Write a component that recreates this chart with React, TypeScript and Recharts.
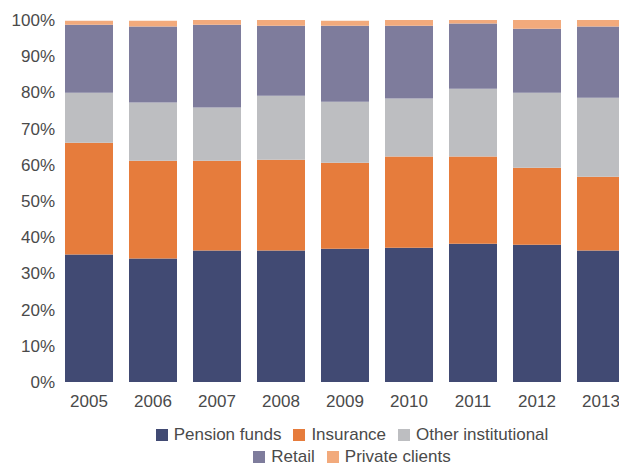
import React from "react";
import { BarChart, Bar, XAxis, YAxis, Legend } from "recharts";

const years = ["2005", "2006", "2007", "2008", "2009", "2010", "2011", "2012", "2013"];
const pensionFunds = [35.2, 34.1, 36.3, 36.3, 36.8, 37.1, 38.2, 37.9, 36.3];
const insurance = [30.9, 27.0, 24.8, 25.1, 23.8, 25.2, 24.1, 21.3, 20.4];
const otherInstitutional = [13.8, 16.1, 14.7, 17.7, 16.8, 16.0, 18.7, 20.7, 21.8];
const retail = [18.8, 21.0, 22.9, 19.3, 21.0, 20.1, 18.0, 17.7, 19.7];
const privateClients = [1.1, 1.6, 1.3, 1.6, 1.4, 1.6, 1.0, 2.4, 1.8];
const yTicks = [0, 10, 20, 30, 40, 50, 60, 70, 80, 90, 100];

const series = [
  { key: "pension", name: "Pension funds", color: "#414a73", values: pensionFunds },
  { key: "insurance", name: "Insurance", color: "#e67c3c", values: insurance },
  { key: "other", name: "Other institutional", color: "#bdbec1", values: otherInstitutional },
  { key: "retail", name: "Retail", color: "#7e7c9c", values: retail },
  { key: "private", name: "Private clients", color: "#f2aa7c", values: privateClients },
];

const data = years.map((year, i) => {
  const row: Record<string, string | number> = { year };
  series.forEach((s) => {
    row[s.key] = s.values[i];
  });
  return row;
});

const FONT = "'Liberation Sans', Arial, Helvetica, sans-serif";
const TEXT = "#4a4a4a";

const LegendContent = () => (
  <div
    style={{
      display: "flex",
      flexWrap: "wrap",
      justifyContent: "center",
      fontFamily: FONT,
      fontSize: 17,
      color: TEXT,
      lineHeight: "22px",
    }}
  >
    {series.map((s) => (
      <div key={s.key} style={{ display: "flex", alignItems: "center", margin: "0 6px", whiteSpace: "nowrap" }}>
        <span style={{ display: "inline-block", width: 12, height: 12, background: s.color, marginRight: 6 }} />
        <span>{s.name}</span>
      </div>
    ))}
  </div>
);

export default function App() {
  return (
    <div style={{ position: "absolute", left: 8, top: 8, width: 611, height: 457, overflow: "hidden" }}>
      <BarChart
        width={625}
        height={465}
        data={data}
        margin={{ top: 12, right: 0, bottom: 5, left: 0 }}
        barCategoryGap={8}
      >
        <XAxis
          dataKey="year"
          axisLine={false}
          tickLine={false}
          tickSize={0}
          tickMargin={13}
          height={42}
          interval={0}
          tick={{ fill: TEXT, fontSize: 17, fontFamily: FONT }}
        />
        <YAxis
          domain={[0, 100]}
          allowDataOverflow
          ticks={yTicks}
          tickFormatter={(v: number) => `${v}%`}
          axisLine={false}
          tickLine={false}
          tickSize={0}
          tickMargin={2}
          width={49}
          tick={{ fill: TEXT, fontSize: 17, fontFamily: FONT }}
        />
        <Legend
          verticalAlign="bottom"
          content={<LegendContent />}
          wrapperStyle={{ left: 134, width: 420, height: 44 }}
        />
        {series.map((s) => (
          <Bar
            key={s.key}
            dataKey={s.key}
            name={s.name}
            stackId="a"
            fill={s.color}
            isAnimationActive={false}
          />
        ))}
      </BarChart>
    </div>
  );
}
